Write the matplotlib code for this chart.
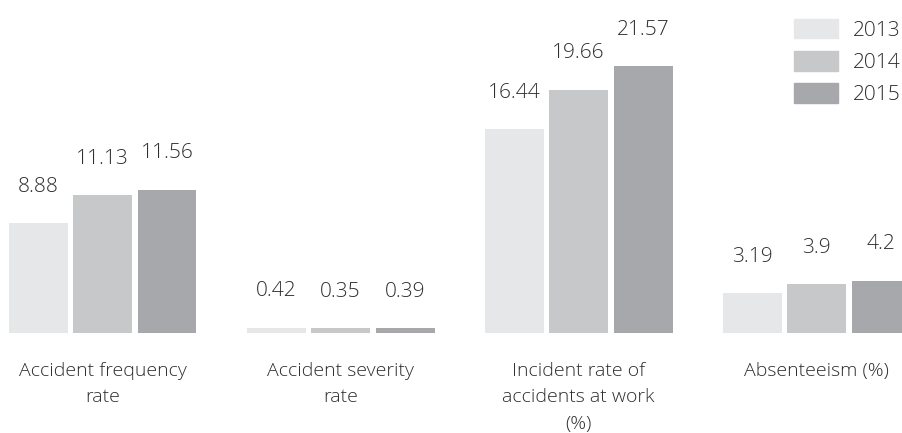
import matplotlib
matplotlib.use('Agg')
import matplotlib.pyplot as plt
import matplotlib.patches as mpatches
import numpy as np

plt.rcParams['font.family'] = ['Open Sans', 'DejaVu Sans']
plt.rcParams['font.weight'] = 'light'

# Data
categories = ['Accident frequency\nrate', 'Accident severity\nrate',
              'Incident rate of\naccidents at work\n(%)', 'Absenteeism (%)']
years = ['2013', '2014', '2015']
vals_2013 = [8.88, 0.42, 16.44, 3.19]
vals_2014 = [11.13, 0.35, 19.66, 3.9]
vals_2015 = [11.56, 0.39, 21.57, 4.2]
labels_2013 = ['8.88', '0.42', '16.44', '3.19']
labels_2014 = ['11.13', '0.35', '19.66', '3.9']
labels_2015 = ['11.56', '0.39', '21.57', '4.2']

colors = ['#e6e7e8', '#c7c8ca', '#a7a8ab']
txt_color = '#2e2e2e'

W, H = 903, 433
fig = plt.figure(figsize=(W / 100, H / 100), dpi=100)
fig.patch.set_facecolor('white')

ax = fig.add_axes([0, 0, 1, 1])
ax.axis('off')

# 1 x-unit = one group (238 px); 1 y-unit ~ 12.37 px
ax.set_xlim(-102.5 / 238, (W - 102.5) / 238)
ax.set_ylim(-100.3 / 12.37, (H - 100.3) / 12.37)

x = np.arange(len(categories))
step = 64.5 / 238
width = 59 / 238

series = [(vals_2013, labels_2013), (vals_2014, labels_2014), (vals_2015, labels_2015)]
handles = []
for i, (vals, labs) in enumerate(series):
    xs = x + (i - 1) * step
    bars = ax.bar(xs, vals, width, color=colors[i], linewidth=0)
    handles.append(mpatches.Patch(color=colors[i], label=years[i]))
    for xb, v, lab in zip(xs, vals, labs):
        ax.annotate(lab, (xb, v), xytext=(0, 22.5), textcoords='offset points',
                    ha='center', va='baseline', fontsize=15, color=txt_color)

# category labels under each group
for xc, cat in zip(x, categories):
    ax.annotate(cat, (xc, 0), xytext=(0, -21), textcoords='offset points',
                ha='center', va='top', fontsize=14, color=txt_color,
                linespacing=1.6)

fig.legend(handles=handles, loc='upper right',
           bbox_to_anchor=(901 / W, 1 - 19 / H),
           frameon=False, fontsize=15, handlelength=2.1, handleheight=1.06,
           handletextpad=0.75, labelspacing=0.5, borderpad=0, borderaxespad=0,
           labelcolor=txt_color)

plt.savefig('out.png', dpi=100, facecolor='white')
